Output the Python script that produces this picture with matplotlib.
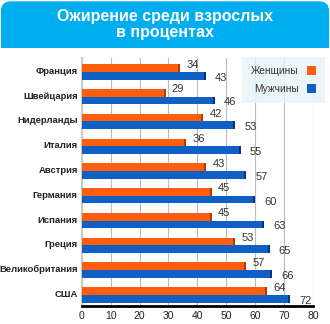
import numpy as np
import matplotlib
matplotlib.use("Agg")
import matplotlib.pyplot as plt
from matplotlib.patches import FancyBboxPatch, Rectangle, Patch

plt.rcParams['font.family'] = ['Liberation Sans', 'DejaVu Sans']

# данные
countries = ['Франция', 'Швейцария', 'Нидерланды', 'Италия', 'Австрия',
             'Германия', 'Испания', 'Греция', 'Великобритания', 'США']
women = [34, 29, 42, 36, 43, 45, 45, 53, 57, 64]
men = [43, 46, 53, 55, 57, 60, 63, 65, 66, 72]
xticks = [0, 10, 20, 30, 40, 50, 60, 70, 80]

c_orange = '#FF5E0E'
c_orange_end = '#B83A00'
c_blue = '#0F5FC4'
c_blue_end = '#06337A'
c_title = '#00AEEF'

fig = plt.figure(figsize=(3.3, 3.24), dpi=100)

# шапка с заголовком
banner = FancyBboxPatch((0.003, 0.856), 0.994, 0.14, boxstyle='round,pad=0,rounding_size=0.03',
                        transform=fig.transFigure, facecolor=c_title, edgecolor='none')
fig.patches.append(banner)
fig.patches.append(Rectangle((0.003, 0.853), 0.994, 0.06, transform=fig.transFigure,
                             facecolor=c_title, edgecolor='none'))
fig.text(0.5, 0.925, 'Ожирение среди взрослых\nв процентах', ha='center', va='center',
         color='white', fontsize=11.5, fontweight='bold', linespacing=1.1)

ax = fig.add_axes([0.248, 0.056, 0.70, 0.765])
y = np.arange(len(countries))
h = 0.31

ax.barh(y - h / 2 + 0.06, women, height=h, color=c_orange, zorder=3)
ax.barh(y + h / 2 + 0.06, men, height=h, color=c_blue, zorder=3)
# тёмные торцы (3D эффект)
ax.barh(y - h / 2 + 0.06, 0.7, left=np.array(women) - 0.7, height=h, color=c_orange_end, zorder=4)
ax.barh(y + h / 2 + 0.06, 0.7, left=np.array(men) - 0.7, height=h, color=c_blue_end, zorder=4)

for i in range(len(countries)):
    ax.text(women[i] + 2.2, y[i] - h / 2 - 0.08, str(women[i]), ha='left', va='center',
            fontsize=8, color='#333333', zorder=5)
    ax.text(men[i] + 3.2, y[i] + h / 2 + 0.14, str(men[i]), ha='left', va='center',
            fontsize=8, color='#333333', zorder=5)

ax.set_xlim(0, 80)
ax.set_ylim(len(countries) - 0.5, -0.5)
ax.set_xticks(xticks)
ax.set_xticklabels([str(v) for v in xticks], fontsize=7.5, color='#222222')
ax.set_yticks(y)
ax.set_yticklabels(countries, fontsize=6.8, fontweight='bold', color='#222222')
ax.tick_params(axis='y', length=0, pad=3)
ax.tick_params(axis='x', length=0, pad=4)
ax.grid(axis='x', color='#BBBBBB', linewidth=0.8, zorder=0)
for s in ['top', 'right']:
    ax.spines[s].set_visible(False)
ax.spines['left'].set_color('#CCCCCC')
ax.spines['left'].set_linewidth(1.5)
ax.spines['bottom'].set_color('black')
ax.spines['bottom'].set_linewidth(2)

# легенда
handles = [Patch(facecolor=c_orange, label='Женщины'), Patch(facecolor=c_blue, label='Мужчины')]
leg = fig.legend(handles=handles, loc='upper right', bbox_to_anchor=(0.985, 0.825),
                 markerfirst=False, frameon=True, fancybox=False, fontsize=7.3,
                 handlelength=0.9, handleheight=0.9, handletextpad=0.8,
                 borderpad=0.9, labelspacing=0.8, borderaxespad=0)
leg.get_frame().set_facecolor('#E6F4FB')
leg.get_frame().set_edgecolor('none')
for t in leg.get_texts():
    t.set_color('#333333')

fig.savefig('out.png', dpi=100)
